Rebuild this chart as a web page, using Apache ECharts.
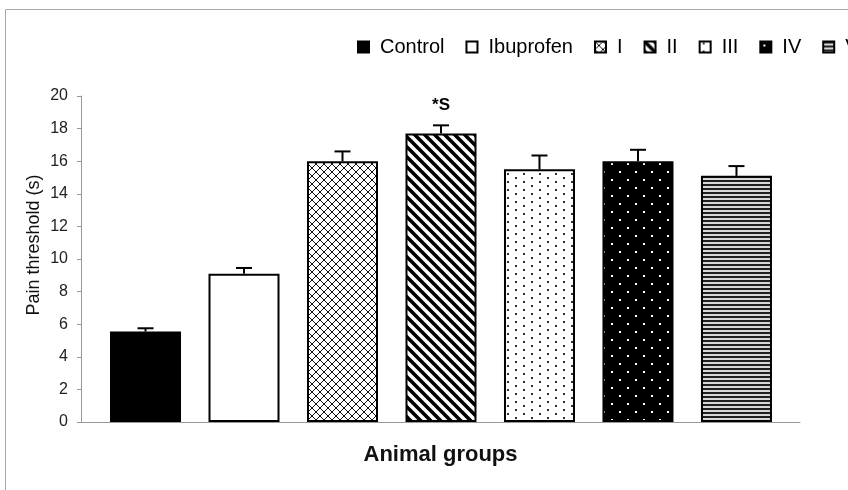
<!DOCTYPE html>
<html><head><meta charset="utf-8">
<script src="https://cdn.jsdelivr.net/npm/echarts@6/dist/echarts.min.js"></script>
<style>html,body{margin:0;padding:0;background:#fff}#c{width:848px;height:490px}</style>
</head><body><div id="c"></div>
<script>
// ---- data ----
const groups = ['Control', 'Ibuprofen', 'I', 'II', 'III', 'IV', 'V'];
const painThreshold = [5.55, 9.1, 16.0, 17.7, 15.5, 16.0, 15.1];
const stdError = [0.2, 0.35, 0.6, 0.5, 0.85, 0.7, 0.6];
const annotations = ['', '', '', '*S', '', '', ''];
const yMin = 0, yMax = 20, yStep = 2;

// ---- fill patterns ----
function tile(w, h, draw) {
  const c = document.createElement('canvas');
  c.width = w; c.height = h;
  const g = c.getContext('2d');
  draw(g, w, h);
  return { image: c, repeat: 'repeat' };
}
const fills = [
  '#000000',
  '#ffffff',
  tile(8, 8, (g) => {
    g.fillStyle = '#fff'; g.fillRect(0, 0, 8, 8);
    g.strokeStyle = '#111'; g.lineWidth = 1;
    g.beginPath();
    g.moveTo(0, 0); g.lineTo(8, 8);
    g.moveTo(8, 0); g.lineTo(0, 8);
    g.stroke();
  }),
  tile(10, 10, (g) => {
    g.fillStyle = '#fff'; g.fillRect(0, 0, 10, 10);
    g.strokeStyle = '#000'; g.lineWidth = 3.6;
    g.beginPath();
    [-10, 0, 10].forEach(k => { g.moveTo(k - 2, -2); g.lineTo(k + 12, 12); });
    g.stroke();
  }),
  tile(16, 8, (g) => {
    g.fillStyle = '#fff'; g.fillRect(0, 0, 16, 8);
    g.fillStyle = '#333';
    g.fillRect(3, 1, 2, 2); g.fillRect(11, 5, 2, 2);
  }),
  tile(16, 16, (g) => {
    g.fillStyle = '#000'; g.fillRect(0, 0, 16, 16);
    g.fillStyle = '#fff';
    g.fillRect(3, 3, 2, 2); g.fillRect(11, 11, 2, 2);
  }),
  tile(4, 4, (g) => {
    g.fillStyle = '#d8d8d8'; g.fillRect(0, 0, 4, 4);
    g.fillStyle = '#1e1e1e'; g.fillRect(0, 0, 4, 2);
  })
];

const FONT = 'Liberation Sans, Arial, sans-serif';

const barSeries = groups.map((name, i) => ({
  type: 'bar',
  name: name,
  barWidth: 71,
  barGap: '-100%',
  data: [annotations[i]
    ? { value: [i, painThreshold[i]], label: { show: true, formatter: annotations[i] } }
    : { value: [i, painThreshold[i]] }],
  itemStyle: { color: fills[i], borderColor: '#000', borderWidth: 2 },
  label: { position: 'top', distance: 20, fontSize: 17, fontWeight: 'bold', color: '#000', fontFamily: FONT },
  z: 2
}));

const errSeries = {
  type: 'custom',
  name: 'error',
  silent: true,
  z: 3,
  data: groups.map((g, i) => [i, painThreshold[i], stdError[i]]),
  renderItem: (params, api) => {
    const x = api.value(0), v = api.value(1), e = api.value(2);
    const p0 = api.coord([x, v]);
    const p1 = api.coord([x, v + e]);
    return {
      type: 'group',
      children: [
        { type: 'line', shape: { x1: p0[0], y1: p0[1], x2: p1[0], y2: p1[1] }, style: { stroke: '#000', lineWidth: 2 } },
        { type: 'line', shape: { x1: p1[0] - 8, y1: p1[1], x2: p1[0] + 8, y2: p1[1] }, style: { stroke: '#000', lineWidth: 2 } }
      ]
    };
  }
};

const chart = echarts.init(document.getElementById('c'), null, { renderer: 'canvas' });
chart.setOption({
  animation: false,
  backgroundColor: '#fff',
  textStyle: { fontFamily: FONT },
  graphic: [{
    type: 'rect', silent: true, z: -10,
    shape: { x: 5.5, y: 9.5, width: 1000, height: 1000 },
    style: { fill: null, stroke: '#a8a8a8', lineWidth: 1 }
  }],
  legend: {
    data: groups,
    left: 357,
    top: 37,
    width: 800,
    padding: 0,
    itemWidth: 11,
    itemHeight: 11,
    itemGap: 21,
    icon: 'rect',
    textStyle: { fontSize: 20, color: '#000', fontFamily: FONT, padding: [0, 0, 0, 6] }
  },
  grid: { left: 81, right: 48, top: 96, bottom: 68, containLabel: false },
  xAxis: {
    type: 'value',
    min: -0.655,
    max: 6.645,
    axisLine: { show: true, onZero: false, lineStyle: { color: '#999', width: 1 } },
    axisTick: { show: false },
    axisLabel: { show: false },
    splitLine: { show: false },
    name: 'Animal groups',
    nameLocation: 'middle',
    nameGap: 22,
    nameTextStyle: { fontSize: 22, fontWeight: 'bold', color: '#111', fontFamily: FONT }
  },
  yAxis: {
    type: 'value',
    min: yMin,
    max: yMax,
    interval: yStep,
    axisLine: { show: true, onZero: false, lineStyle: { color: '#999', width: 1 } },
    axisTick: { show: true, length: 4, lineStyle: { color: '#999' } },
    axisLabel: { fontSize: 16, color: '#222', margin: 13, fontFamily: FONT },
    splitLine: { show: false },
    name: 'Pain threshold (s)',
    nameLocation: 'middle',
    nameGap: 38,
    nameMoveOverlap: false,
    nameTextStyle: { fontSize: 18, color: '#111', fontFamily: FONT, padding: [0, 0, 0, 28] }
  },
  series: [...barSeries, errSeries]
});
</script>
</body></html>
